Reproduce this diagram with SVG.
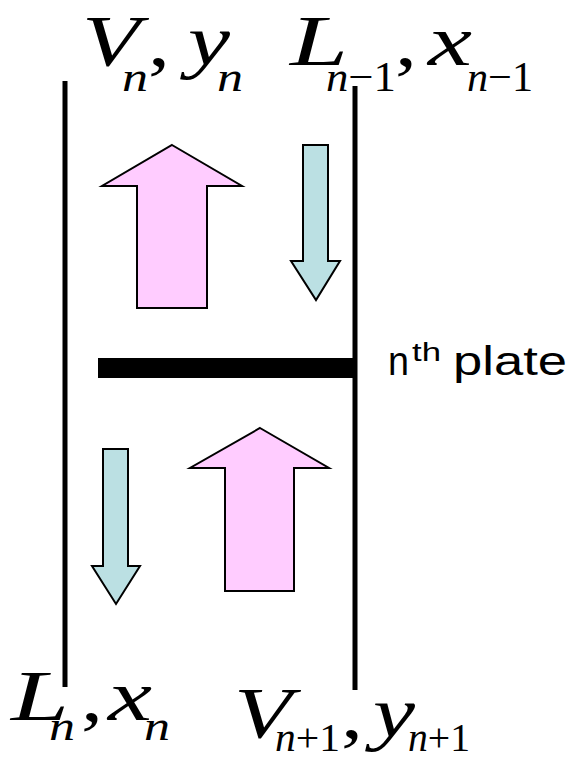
<svg xmlns="http://www.w3.org/2000/svg" width="568" height="758" viewBox="0 0 568 758">
<style>
.m{font-family:"Liberation Serif","Times New Roman",serif;font-style:italic;font-size:72px;fill:#000}
.s{font-family:"Liberation Serif","Times New Roman",serif;font-style:italic;font-size:42px;fill:#000}
.b{font-size:39px}
.u{font-style:normal}
.r{font-family:"Liberation Serif","Times New Roman",serif;font-style:normal;font-size:72px;fill:#000}
.sans{font-family:"Liberation Sans",Arial,sans-serif;fill:#000}
.up{fill:#FFCCFF;stroke:#000;stroke-width:2;stroke-linejoin:miter}
.down{fill:#BBE0E3;stroke:#000;stroke-width:2;stroke-linejoin:miter}
.wall{stroke:#000;stroke-width:5;fill:none}
</style>
<rect width="568" height="758" fill="#fff"/>
<g id="walls">
<line class="wall" x1="65" y1="81" x2="65" y2="687"/>
<line class="wall" x1="355" y1="86" x2="355" y2="690"/>
</g>
<g id="plate">
<rect x="98" y="358" width="257" height="20" fill="#000"/>
<text class="sans" x="388" y="375" font-size="40" textLength="21" lengthAdjust="spacingAndGlyphs">n</text>
<text class="sans" x="412" y="361" font-size="26" textLength="29" lengthAdjust="spacingAndGlyphs">th</text>
<text class="sans" x="453" y="375" font-size="40" textLength="114" lengthAdjust="spacingAndGlyphs">plate</text>
</g>
<g id="connectors">
<polygon id="vapor-up-top" class="up" points="172,145 242,186 207,186 207,308 137,308 137,186 102,186"/>
<polygon id="liquid-down-top" class="down" points="303,145 328,145 328,261 340,261 316,300 291,261 303,261"/>
<polygon id="vapor-up-bottom" class="up" points="260,428 329,468 294,468 294,591 225,591 225,468 190,468"/>
<polygon id="liquid-down-bottom" class="down" points="103,449 128,449 128,566 140,566 116,604 92,566 103,566"/>
</g>
<g id="label-Vn">
<text class="m" x="82" y="65" textLength="58" lengthAdjust="spacingAndGlyphs">V</text>
<text class="s" x="122" y="91" textLength="26" lengthAdjust="spacingAndGlyphs">n</text>
<text class="r" x="148" y="65" textLength="22" lengthAdjust="spacingAndGlyphs">,</text>
<text class="m" x="188" y="65" textLength="42" lengthAdjust="spacingAndGlyphs">y</text>
<text class="s" x="217" y="91" textLength="26" lengthAdjust="spacingAndGlyphs">n</text>
</g>
<g id="label-Ln-1">
<text class="m" x="290" y="65" textLength="58" lengthAdjust="spacingAndGlyphs">L</text>
<text class="s" x="326" y="91" textLength="70" lengthAdjust="spacingAndGlyphs">n<tspan class="u">−1</tspan></text>
<text class="r" x="395" y="65" textLength="22" lengthAdjust="spacingAndGlyphs">,</text>
<text class="m" x="428" y="65" textLength="44" lengthAdjust="spacingAndGlyphs">x</text>
<text class="s" x="467" y="91" textLength="66" lengthAdjust="spacingAndGlyphs">n<tspan class="u">−1</tspan></text>
</g>
<g id="label-Ln">
<text class="m" x="11" y="720" textLength="58" lengthAdjust="spacingAndGlyphs">L</text>
<text class="s" x="49" y="740" textLength="26" lengthAdjust="spacingAndGlyphs">n</text>
<text class="r" x="81" y="720" textLength="22" lengthAdjust="spacingAndGlyphs">,</text>
<text class="m" x="108" y="720" textLength="44" lengthAdjust="spacingAndGlyphs">x</text>
<text class="s" x="144" y="740" textLength="26" lengthAdjust="spacingAndGlyphs">n</text>
</g>
<g id="label-Vn+1">
<text class="m" x="234" y="737" textLength="58" lengthAdjust="spacingAndGlyphs">V</text>
<text class="s b" x="275" y="751" textLength="65" lengthAdjust="spacingAndGlyphs">n<tspan class="u">+1</tspan></text>
<text class="r" x="341" y="737" textLength="22" lengthAdjust="spacingAndGlyphs">,</text>
<text class="m" x="373" y="737" textLength="42" lengthAdjust="spacingAndGlyphs">y</text>
<text class="s b" x="408" y="751" textLength="62" lengthAdjust="spacingAndGlyphs">n<tspan class="u">+1</tspan></text>
</g>
</svg>
